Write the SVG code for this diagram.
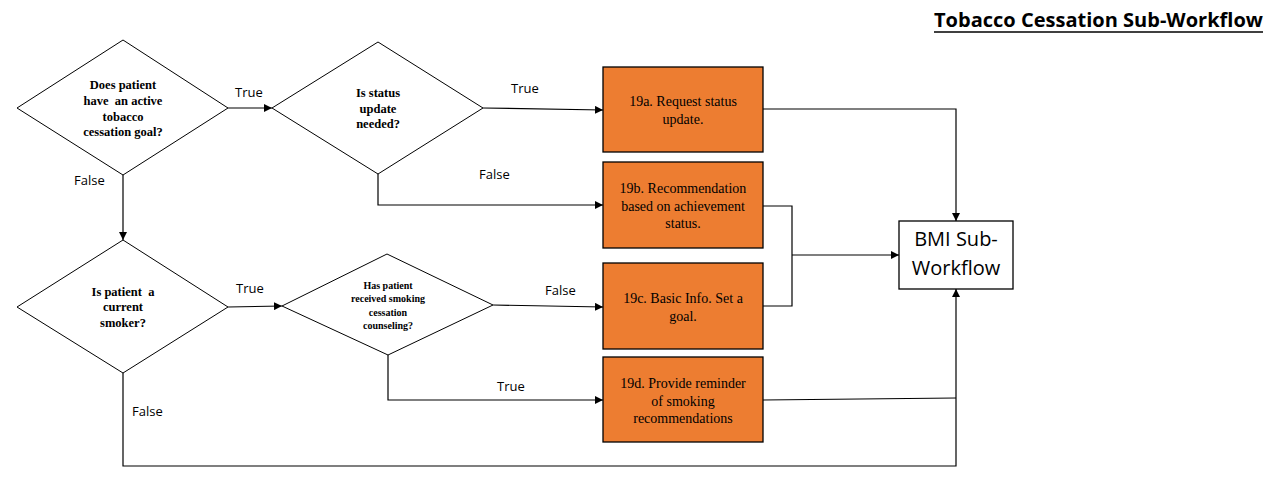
<svg xmlns="http://www.w3.org/2000/svg" width="1278" height="502" viewBox="0 0 1278 502">
<style>
.dia{fill:#fff;stroke:#000;stroke-width:1}
.box{fill:#ed7d31;stroke:#000;stroke-width:1.3}
.bmi{fill:#fff;stroke:#000;stroke-width:1.3}
.dt{font-family:"Liberation Serif",serif;font-weight:bold;font-size:12.5px;text-anchor:middle;fill:#000;white-space:pre}
.dt2{font-family:"Liberation Serif",serif;font-weight:bold;font-size:10px;text-anchor:middle;fill:#000}
.bt{font-family:"Liberation Serif",serif;font-size:14px;text-anchor:middle;fill:#000}
.lb{font-family:"Open Sans",sans-serif;font-size:13px;fill:#000}
.bm{font-family:"Open Sans",sans-serif;font-size:20px;text-anchor:middle;fill:#000}
.ttl{font-family:"Open Sans",sans-serif;font-weight:bold;font-size:19px;fill:#000}
.ln{fill:none;stroke:#000;stroke-width:1.2}
</style>
<defs>
<marker id="ah" viewBox="0 0 10 10" refX="10" refY="5" markerWidth="8" markerHeight="8" markerUnits="userSpaceOnUse" orient="auto">
<path d="M0,0 L10,5 L0,10 z" fill="#000"/>
</marker>
</defs>
<rect width="1278" height="502" fill="#fff"/>
<g id="title">
<text class="ttl" x="934" y="27" textLength="329" lengthAdjust="spacingAndGlyphs">Tobacco Cessation Sub-Workflow</text>
<line x1="934" y1="32" x2="1263" y2="32" stroke="#000" stroke-width="1.5"/>
</g>
<g id="connectors">
<line class="ln" x1="228" y1="108" x2="272" y2="108" marker-end="url(#ah)"/>
<line class="ln" x1="483" y1="108" x2="603" y2="110" marker-end="url(#ah)"/>
<polyline class="ln" points="378,174 378,205 603,205" marker-end="url(#ah)"/>
<line class="ln" x1="123" y1="175" x2="123" y2="240" marker-end="url(#ah)"/>
<line class="ln" x1="228" y1="307" x2="282" y2="306" marker-end="url(#ah)"/>
<line class="ln" x1="493" y1="305" x2="603" y2="307" marker-end="url(#ah)"/>
<polyline class="ln" points="388,355 388,400 603,400" marker-end="url(#ah)"/>
<polyline class="ln" points="763,109 956,109 956,221" marker-end="url(#ah)"/>
<polyline class="ln" points="763,206 792,206 792,306 763,306"/>
<line class="ln" x1="792" y1="255" x2="899" y2="255" marker-end="url(#ah)"/>
<line class="ln" x1="763" y1="400" x2="956" y2="398"/>
<polyline class="ln" points="123,373 123,466 956,466 956,289" marker-end="url(#ah)"/>
<text class="lb" x="235" y="97">True</text>
<text class="lb" x="511" y="93">True</text>
<text class="lb" x="479" y="179">False</text>
<text class="lb" x="74" y="185">False</text>
<text class="lb" x="236" y="293">True</text>
<text class="lb" x="545" y="295">False</text>
<text class="lb" x="497" y="391">True</text>
<text class="lb" x="132" y="416">False</text>
</g>
<g id="d1">
<polygon class="dia" points="17,108 123,40 228,108 123,175"/>
<text class="dt" x="123" y="89">Does patient</text>
<text class="dt" x="123" y="105" xml:space="preserve">have  an active</text>
<text class="dt" x="123" y="121">tobacco</text>
<text class="dt" x="123" y="136">cessation goal?</text>
</g>
<g id="d2">
<polygon class="dia" points="272,108 378,42 483,108 378,174"/>
<text class="dt" x="378" y="97">Is status</text>
<text class="dt" x="378" y="113">update</text>
<text class="dt" x="378" y="128">needed?</text>
</g>
<g id="d3">
<polygon class="dia" points="17,307 123,240 228,307 123,373"/>
<text class="dt" x="123" y="296" xml:space="preserve">Is patient  a</text>
<text class="dt" x="123" y="311">current</text>
<text class="dt" x="123" y="327">smoker?</text>
</g>
<g id="d4">
<polygon class="dia" points="282,306 387,254 493,305 388,355"/>
<text class="dt2" x="388" y="289">Has patient</text>
<text class="dt2" x="388" y="302">received smoking</text>
<text class="dt2" x="388" y="316">cessation</text>
<text class="dt2" x="388" y="329">counseling?</text>
</g>
<g id="n19a">
<rect class="box" x="603" y="67" width="160" height="85"/>
<text class="bt" x="683" y="106">19a. Request status</text>
<text class="bt" x="683" y="124">update.</text>
</g>
<g id="n19b">
<rect class="box" x="603" y="162" width="160" height="86"/>
<text class="bt" x="683" y="193">19b. Recommendation</text>
<text class="bt" x="683" y="211">based on achievement</text>
<text class="bt" x="683" y="228">status.</text>
</g>
<g id="n19c">
<rect class="box" x="603" y="263" width="160" height="86"/>
<text class="bt" x="683" y="303">19c. Basic Info. Set a</text>
<text class="bt" x="683" y="321">goal.</text>
</g>
<g id="n19d">
<rect class="box" x="603" y="357" width="160" height="85"/>
<text class="bt" x="683" y="388">19d. Provide reminder</text>
<text class="bt" x="683" y="406">of smoking</text>
<text class="bt" x="683" y="423">recommendations</text>
</g>
<g id="bmi">
<rect class="bmi" x="899" y="221" width="114" height="68"/>
<text class="bm" x="956" y="246">BMI Sub-</text>
<text class="bm" x="956" y="275">Workflow</text>
</g>
</svg>
